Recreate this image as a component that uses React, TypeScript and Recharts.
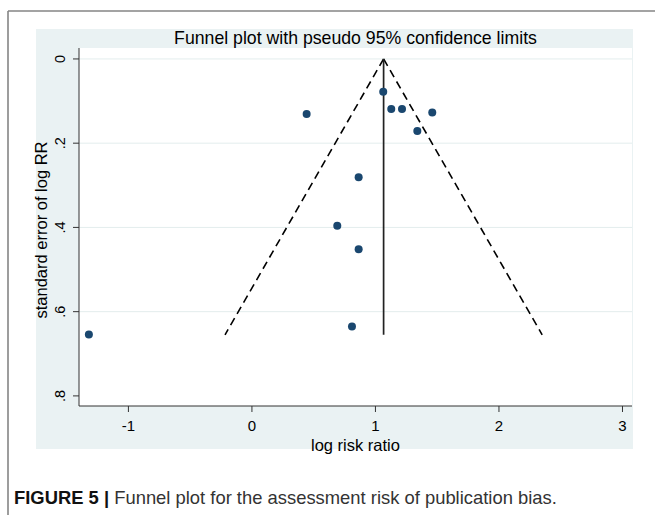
import React from 'react';
import { ScatterChart, Scatter, XAxis, YAxis, CartesianGrid, ReferenceLine } from 'recharts';

// Study estimates (log risk ratio) and their standard errors
const logRiskRatio = [-1.32, 0.443, 1.063, 1.128, 1.215, 1.46, 1.339, 0.864, 0.691, 0.864, 0.81];
const seLogRR = [0.654, 0.131, 0.078, 0.119, 0.119, 0.127, 0.171, 0.281, 0.396, 0.452, 0.635];

// Pooled estimate and max SE that define the pseudo 95% funnel
const pooledLogRR = 1.066;
const maxSE = 0.655;

const xTicks = [-1, 0, 1, 2, 3];
const yTicks = [0, 0.2, 0.4, 0.6, 0.8];
const yGridLines = [0, 0.2, 0.4, 0.6];
const xDomain = [-1.4, 3.077];
const yDomain = [-0.026, 0.824];

const titleText = 'Funnel plot with pseudo 95% confidence limits';
const xTitle = 'log risk ratio';
const yTitle = 'standard error of log RR';
const captionBold = 'FIGURE 5 |';
const captionText = ' Funnel plot for the assessment risk of publication bias.';

const studies = logRiskRatio.map((x, i) => ({ x, y: seLogRR[i] }));
const leftLimit = pooledLogRR - 1.96 * maxSE;
const rightLimit = pooledLogRR + 1.96 * maxSE;

const FONT = '"Liberation Sans", Arial, Helvetica, sans-serif';
const fmtY = (v: number) => (v === 0 ? '0' : String(v).replace(/^0/, ''));

const YTick = (props: any) => {
  const { x, y, payload } = props;
  const bx = x - 8;
  return (
    <text x={bx} y={y} transform={`rotate(-90 ${bx} ${y})`} textAnchor="middle" fontSize={14.5} fill="#000" fontFamily={FONT}>
      {fmtY(payload.value)}
    </text>
  );
};

const YTitle = (props: any) => {
  const vb = props.viewBox || {};
  const cx = vb.x + 18;
  const cy = vb.y + vb.height / 2 + 3;
  return (
    <text x={cx} y={cy} transform={`rotate(-90 ${cx} ${cy})`} textAnchor="middle" fontSize={16.5} fill="#000" fontFamily={FONT}>
      {yTitle}
    </text>
  );
};

const Dot = (props: any) => <circle cx={props.cx} cy={props.cy} r={4} fill="#1a476f" />;

export default function App() {
  return (
    <div style={{ position: 'absolute', left: 0, top: 0, width: 655, height: 515, background: '#fff', overflow: 'hidden' }}>
      <svg width={655} height={515} style={{ position: 'absolute', left: 0, top: 0 }}>
        <line x1={8} y1={11} x2={655} y2={11} stroke="#858585" strokeWidth={1.6} />
        <line x1={8} y1={11} x2={8} y2={515} stroke="#858585" strokeWidth={1.6} />
        <rect x={36} y={29} width={597} height={420} fill="#eaf2f3" />
        <text x={355.5} y={44} textAnchor="middle" fontSize={17.7} fill="#000" fontFamily={FONT}>{titleText}</text>
        <text x={14} y={504} fontSize={18.4} fontFamily={FONT}>
          <tspan fontWeight="bold" fill="#111">{captionBold}</tspan>
          <tspan fill="#333">{captionText}</tspan>
        </text>
      </svg>
      <div style={{ position: 'absolute', left: 0, top: 0 }}>
        <ScatterChart width={655} height={515} margin={{ top: 48, right: 23, bottom: 64, left: 29 }}>
          <CartesianGrid horizontal={false} vertical={false} fill="#ffffff" fillOpacity={1} />
          <XAxis
            type="number"
            dataKey="x"
            domain={xDomain}
            ticks={xTicks}
            allowDataOverflow
            height={45}
            tickSize={6}
            tickMargin={8}
            axisLine={{ stroke: '#333' }}
            tickLine={{ stroke: '#333' }}
            tick={{ fontSize: 15, fill: '#000', fontFamily: FONT }}
            label={{ value: xTitle, position: 'insideBottom', offset: 0, fontSize: 16.5, fill: '#000', fontFamily: FONT }}
          />
          <YAxis
            type="number"
            dataKey="y"
            domain={yDomain}
            ticks={yTicks}
            reversed
            allowDataOverflow
            width={50}
            tickSize={6}
            tickMargin={0}
            axisLine={{ stroke: '#333' }}
            tickLine={{ stroke: '#333' }}
            tick={<YTick />}
            label={<YTitle />}
          />
          {yGridLines.map((v) => (
            <ReferenceLine key={v} y={v} stroke="#e3eded" strokeWidth={1} />
          ))}
          <ReferenceLine segment={[{ x: pooledLogRR, y: 0 }, { x: leftLimit, y: maxSE }]} stroke="#000" strokeWidth={1.6} strokeDasharray="8 5" />
          <ReferenceLine segment={[{ x: pooledLogRR, y: 0 }, { x: rightLimit, y: maxSE }]} stroke="#000" strokeWidth={1.6} strokeDasharray="8 5" />
          <ReferenceLine segment={[{ x: pooledLogRR, y: 0 }, { x: pooledLogRR, y: maxSE }]} stroke="#222" strokeWidth={1.7} />
          <Scatter data={studies} shape={<Dot />} isAnimationActive={false} />
        </ScatterChart>
      </div>
    </div>
  );
}
